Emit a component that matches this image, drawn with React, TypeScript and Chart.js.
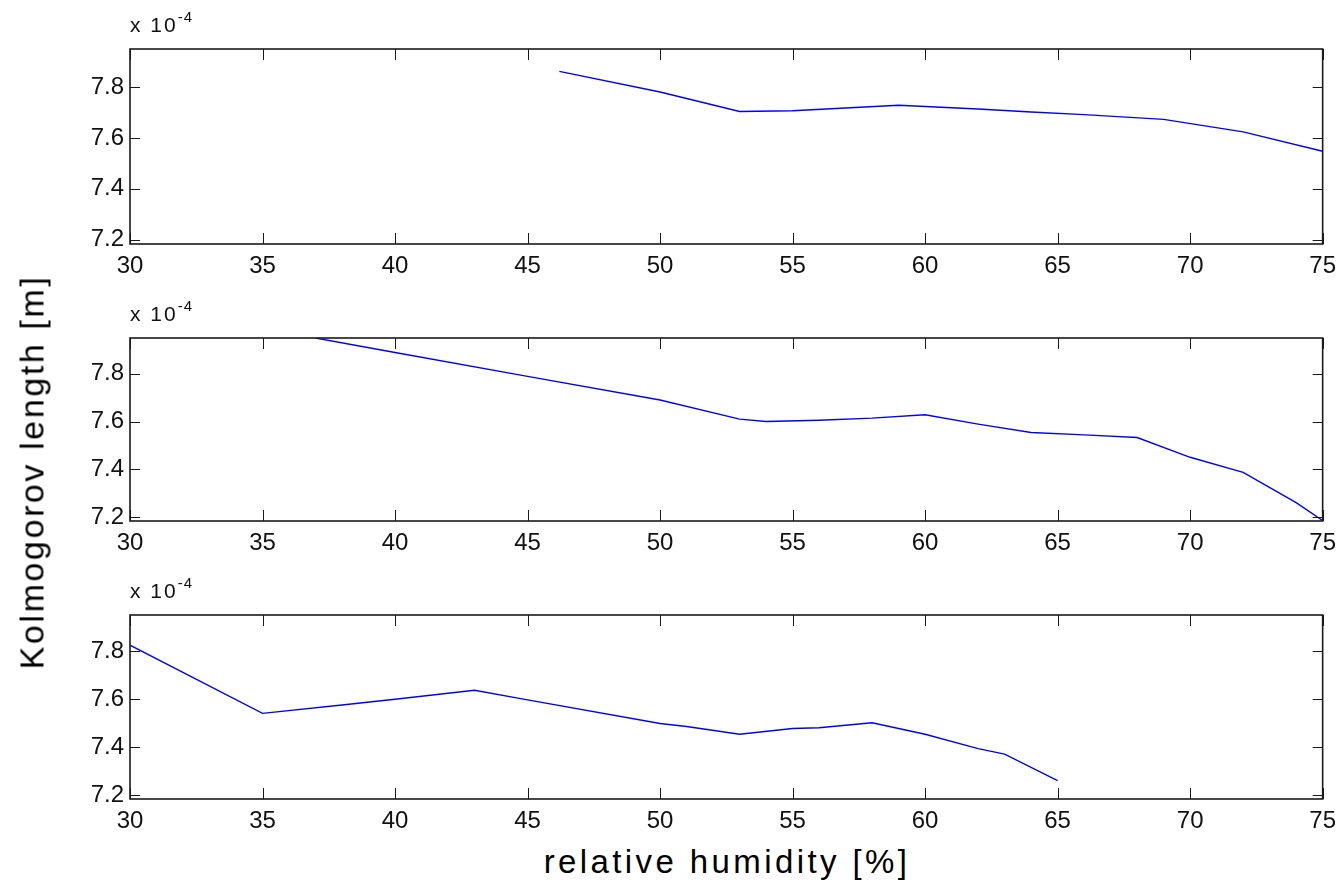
import React, { useEffect, useRef } from "react";
import { Chart, registerables } from "chart.js";

Chart.register(...registerables);

// ---- data (relative humidity [%] vs Kolmogorov length [x 1e-4 m]) ----
const rh1 = [46.2, 50, 53, 55, 59, 62, 64, 66, 69, 72, 75];
const kol1 = [7.862, 7.781, 7.704, 7.707, 7.729, 7.714, 7.702, 7.692, 7.673, 7.624, 7.548];

const rh2 = [37, 40, 45, 50, 53, 54, 56, 58, 60, 62, 64, 66, 68, 70, 72, 74, 75];
const kol2 = [7.95, 7.889, 7.789, 7.69, 7.61, 7.6, 7.605, 7.614, 7.628, 7.589, 7.554, 7.544, 7.533, 7.45, 7.387, 7.26, 7.185];

const rh3 = [30, 35, 38, 40, 43, 45, 50, 51, 53, 55, 56, 58, 60, 62, 63, 65];
const kol3 = [7.824, 7.54, 7.575, 7.599, 7.636, 7.596, 7.498, 7.485, 7.453, 7.477, 7.48, 7.501, 7.453, 7.393, 7.37, 7.26];

const yTickValues = [7.2, 7.4, 7.6, 7.8];
const xTickStep = 5;
const xMin = 30;
const xMax = 75;
const yMin = 7.183;
const yMax = 7.95;

const yLabel = "Kolmogorov length [m]";
const xLabel = "relative humidity [%]";
const multiplierBase = "x 10";
const multiplierExp = "-4";

const FONT = "'Liberation Sans', Arial, Helvetica, sans-serif";

// panel plot-area geometry (page pixels)
const panels = [
  { xs: rh1, ys: kol1, top: 49, bottom: 244 },
  { xs: rh2, ys: kol2, top: 338, bottom: 521 },
  { xs: rh3, ys: kol3, top: 615, bottom: 799 },
];
const PLOT_LEFT = 130;
const RIGHT_PAD = 13;
const PAGE_W = 1340;
const CANVAS_W = 1344;
const PAD_TOP = 40;
const X_AXIS_H = 42;

const matlabAxes = {
  id: "matlabAxes",
  afterDraw(chart: any) {
    const { ctx, chartArea: a, scales } = chart;
    ctx.save();
    ctx.strokeStyle = "#1a1a1a";
    ctx.lineWidth = 1;
    const xs = scales.x;
    const ys = scales.y;
    xs.ticks.forEach((t: any) => {
      const px = Math.round(xs.getPixelForValue(t.value)) + 0.5;
      ctx.beginPath();
      ctx.moveTo(px, a.bottom);
      ctx.lineTo(px, a.bottom - 11);
      ctx.moveTo(px, a.top);
      ctx.lineTo(px, a.top + 11);
      ctx.stroke();
    });
    ys.ticks.forEach((t: any) => {
      const py = Math.round(ys.getPixelForValue(t.value)) + 0.5;
      ctx.beginPath();
      ctx.moveTo(a.left, py);
      ctx.lineTo(a.left + 10, py);
      ctx.moveTo(a.right, py);
      ctx.lineTo(a.right - 10, py);
      ctx.stroke();
    });
    ctx.lineWidth = 1.6;
    ctx.strokeRect(a.left, a.top, a.right - a.left, a.bottom - a.top);
    ctx.restore();
  },
};

function Panel({ idx }: { idx: number }) {
  const ref = useRef<HTMLCanvasElement | null>(null);
  const p = panels[idx];
  const canvasTop = p.top - PAD_TOP;
  const canvasH = p.bottom - canvasTop + X_AXIS_H;

  useEffect(() => {
    if (!ref.current) return;
    const data = p.xs.map((x, i) => ({ x, y: p.ys[i] }));
    const chart = new Chart(ref.current, {
      type: "line",
      data: {
        datasets: [
          {
            data,
            borderColor: "#0000ff",
            borderWidth: 1.4,
            pointRadius: 0,
            fill: false,
            tension: 0,
          },
        ],
      },
      options: {
        animation: false,
        responsive: false,
        maintainAspectRatio: false,
        events: [],
        layout: { padding: { top: PAD_TOP, right: RIGHT_PAD, left: 0, bottom: 0 } },
        plugins: { legend: { display: false }, tooltip: { enabled: false }, title: { display: false } },
        scales: {
          x: {
            type: "linear",
            min: xMin,
            max: xMax,
            grid: { display: false, drawTicks: false },
            border: { display: false },
            ticks: {
              stepSize: xTickStep,
              padding: 8,
              color: "#111",
              font: { family: FONT, size: 24 },
              maxRotation: 0,
            },
            afterFit: (s: any) => {
              s.height = X_AXIS_H;
            },
          },
          y: {
            type: "linear",
            min: yMin,
            max: yMax,
            grid: { display: false, drawTicks: false },
            border: { display: false },
            afterBuildTicks: (s: any) => {
              s.ticks = yTickValues.map((v) => ({ value: v }));
            },
            ticks: {
              padding: 6,
              color: "#111",
              font: { family: FONT, size: 24 },
              callback: (v: any) => Number(v).toFixed(1),
            },
            afterFit: (s: any) => {
              s.width = PLOT_LEFT;
            },
          },
        },
      },
      plugins: [matlabAxes],
    } as any);
    return () => chart.destroy();
  }, []);

  return (
    <>
      <canvas
        ref={ref}
        width={CANVAS_W}
        height={canvasH}
        style={{ position: "absolute", left: 0, top: canvasTop, width: CANVAS_W, height: canvasH }}
      />
      <div
        style={{
          position: "absolute",
          left: 130,
          top: p.top - 36,
          fontFamily: FONT,
          fontSize: 21,
          letterSpacing: 2,
          color: "#111",
          lineHeight: "24px",
          whiteSpace: "nowrap",
        }}
      >
        {multiplierBase}
        <span style={{ fontSize: 15, letterSpacing: 1, position: "relative", top: -10 }}>{multiplierExp}</span>
      </div>
    </>
  );
}

export default function App() {
  return (
    <div
      style={{
        position: "absolute",
        left: 0,
        top: 0,
        width: PAGE_W,
        height: 887,
        background: "#fff",
        overflow: "hidden",
      }}
    >
      {panels.map((_, i) => (
        <Panel key={i} idx={i} />
      ))}
      <div
        style={{
          position: "absolute",
          left: 32,
          top: 472,
          transform: "translate(-50%, -50%) rotate(-90deg)",
          fontFamily: FONT,
          fontSize: 34,
          letterSpacing: 2.6,
          color: "#000",
          whiteSpace: "nowrap",
        }}
      >
        {yLabel}
      </div>
      <div
        style={{
          position: "absolute",
          left: 727,
          top: 862,
          transform: "translate(-50%, -50%)",
          fontFamily: FONT,
          fontSize: 33,
          letterSpacing: 3.4,
          color: "#000",
          whiteSpace: "nowrap",
        }}
      >
        {xLabel}
      </div>
    </div>
  );
}
